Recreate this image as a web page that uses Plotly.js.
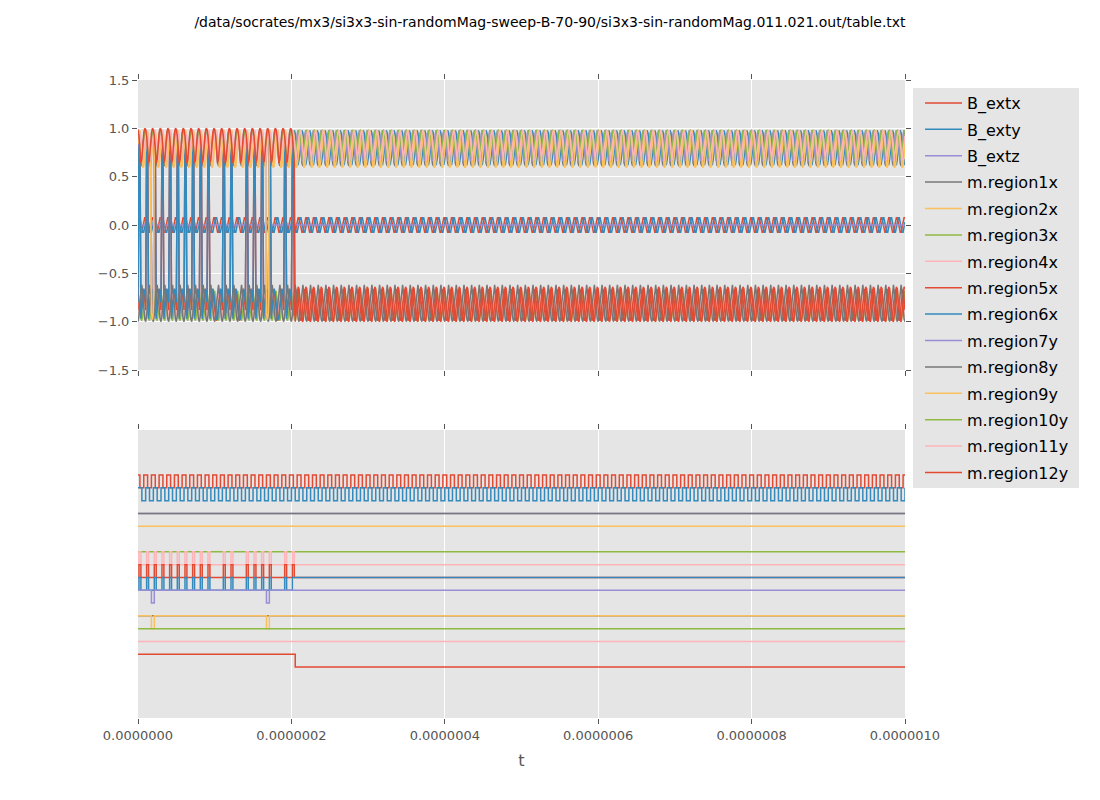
<!DOCTYPE html>
<html>
<head>
<meta charset="utf-8">
<script src="https://cdn.plot.ly/plotly-3.0.1.min.js"></script>
<style>html,body{margin:0;padding:0;background:#fff;}#chart{width:1100px;height:800px;}</style>
</head>
<body>
<div id="chart"></div>
<script>
// ---------------- data ----------------
const chartTitle = "/data/socrates/mx3/si3x3-sin-randomMag-sweep-B-70-90/si3x3-sin-randomMag.011.021.out/table.txt";
const seriesNames = ["B_extx","B_exty","B_extz","m.region1x","m.region2x","m.region3x","m.region4x",
  "m.region5x","m.region6x","m.region7y","m.region8y","m.region9y","m.region10y","m.region11y","m.region12y"];
const seriesColors = ["#E24A33","#348ABD","#988ED5","#777777","#FBC15E","#8EBA42","#FFB5B8",
  "#E24A33","#348ABD","#988ED5","#777777","#FBC15E","#8EBA42","#FFB5B8","#E24A33"];

const cycleCount = 100;          // drive cycles shown
const cyclePeriod = 1e-8;        // s
const samplesPerCycle = 8;

// one drive cycle of each signal
const bExtxCycle = [0.074, 0.031, -0.031, -0.074, -0.074, -0.031, 0.031, 0.074];
const bExtyCycle = [0.031, 0.074, 0.074, 0.031, -0.031, -0.074, -0.074, -0.031];
const bExtzCycle = [0, 0, 0, 0, 0, 0, 0, 0];
const region1xCycle = [0.97, 0.91, 0.78, 0.64, 0.61, 0.72, 0.86, 0.95];
const region2xCycle = [0.90, 0.97, 0.93, 0.81, 0.66, 0.59, 0.68, 0.82];
const region3xCycle = [-0.68, -0.78, -0.90, -0.97, -0.99, -0.93, -0.82, -0.71];
const region4xCycle = [-0.96, -0.99, -0.92, -0.80, -0.70, -0.74, -0.86, -0.93];
const region5xCycle = [-0.88, -0.97, -0.99, -0.94, -0.82, -0.70, -0.66, -0.76];
const region6xCycleBefore = [-0.80, -0.90, -0.98, -0.97, -0.88, -0.74, -0.66, -0.70];
const region6xCycleAfter = [0.68, 0.80, 0.92, 0.98, 0.95, 0.84, 0.70, 0.62];
const region7yCycle = [0.95, 0.88, 0.76, 0.66, 0.70, 0.84, 0.94, 0.98];
const region8yCycle = [-1.00, -0.94, -0.80, -0.66, -0.62, -0.72, -0.88, -0.97];
const region9yCycle = [0.84, 0.94, 0.98, 0.90, 0.74, 0.61, 0.60, 0.70];
const region10yCycle = [0.98, 0.95, 0.86, 0.74, 0.68, 0.77, 0.90, 0.97];
const region11yCycle = [0.92, 0.98, 0.95, 0.85, 0.72, 0.67, 0.78, 0.88];
const region12yCycleBefore = [0.99, 0.92, 0.78, 0.64, 0.68, 0.84, 0.95, 1.00];
const region12yCycleAfter = [-0.66, -0.80, -0.93, -0.99, -1.00, -0.92, -0.80, -0.64];

// switching events
const pulseCycles = [0, 1, 2, 3, 4, 5, 6, 7, 8, 9, 11, 12, 14, 15, 16, 17, 19, 20];
const pulseSampleIdx = [1, 2];
const pulseValues = [0.88, 0.95];
const dipStartSamples = [14, 134];     // sample index where m.region7y / m.region9y dip
const dipValues = [-0.92, -0.98, -0.90];
const region6xFlipSample = 161;        // m.region6x stays positive from here
const region12yFlipSample = 164;       // m.region12y reverses here

// ---------------- build series ----------------
const nSamples = cycleCount * samplesPerCycle + 1;
const times = [];
for (let n = 0; n < nSamples; n++) times.push(n * cyclePeriod / samplesPerCycle);

function tile(cyc) { return times.map((_, n) => cyc[n % samplesPerCycle]); }
function tileSplit(before, after, flip) {
  return times.map((_, n) => (n < flip ? before : after)[n % samplesPerCycle]);
}
function addPulses(arr, lastSample) {
  pulseCycles.forEach(c => pulseSampleIdx.forEach((s, k) => {
    const n = c * samplesPerCycle + s;
    if (lastSample === undefined || n < lastSample) arr[n] = pulseValues[k];
  }));
  return arr;
}
function addDips(arr) {
  dipStartSamples.forEach(s0 => dipValues.forEach((v, k) => { arr[s0 + k] = v; }));
  return arr;
}

const seriesValues = [
  tile(bExtxCycle),
  tile(bExtyCycle),
  tile(bExtzCycle),
  tile(region1xCycle),
  tile(region2xCycle),
  tile(region3xCycle),
  addPulses(tile(region4xCycle)),
  addPulses(tile(region5xCycle)),
  addPulses(tileSplit(region6xCycleBefore, region6xCycleAfter, region6xFlipSample), region6xFlipSample),
  addDips(tile(region7yCycle)),
  tile(region8yCycle),
  addDips(tile(region9yCycle)),
  tile(region10yCycle),
  tile(region11yCycle),
  tileSplit(region12yCycleBefore, region12yCycleAfter, region12yFlipSample)
];

// ---------------- traces ----------------
const traces = [];
const nSeries = seriesNames.length;
seriesNames.forEach((name, i) => {
  traces.push({
    type: "scatter", mode: "lines", name: name, legendgroup: "g" + i,
    x: times, y: seriesValues[i], xaxis: "x", yaxis: "y",
    line: {color: seriesColors[i], width: 1.5}, hoverinfo: "skip"
  });
});
seriesNames.forEach((name, i) => {
  const lane = nSeries - 1 - i;
  traces.push({
    type: "scatter", mode: "lines", name: name, showlegend: false,
    x: times, y: seriesValues[i].map(v => lane + (v > 0 ? 1 : 0)), xaxis: "x2", yaxis: "y2",
    line: {color: seriesColors[i], width: 1.5, shape: "hv"}, hoverinfo: "skip"
  });
});

const xTicks = [0, 2e-7, 4e-7, 6e-7, 8e-7, 1e-6];
const xDomain = [138 / 1100, 905 / 1100];
const common = {
  ticks: "outside", ticklen: 5, tickwidth: 1, tickcolor: "#555555", mirror: "ticks",
  gridcolor: "#FFFFFF", gridwidth: 1, zeroline: false, showline: false
};

const layout = {
  width: 1100, height: 800,
  margin: {l: 0, r: 0, t: 0, b: 0},
  paper_bgcolor: "#FFFFFF", plot_bgcolor: "#E5E5E5",
  font: {family: "DejaVu Sans", color: "#555555", size: 13},
  showlegend: true,
  title: {text: chartTitle, x: 0.5, xref: "container", xanchor: "center",
          y: 1 - 22 / 800, yref: "container", yanchor: "middle",
          font: {family: "DejaVu Sans", size: 14, color: "#000000"}},
  xaxis: Object.assign({}, common, {domain: xDomain, anchor: "y", range: [0, 1e-6],
          tickvals: xTicks, showticklabels: false}),
  yaxis: Object.assign({}, common, {domain: [1 - 370 / 800, 1 - 80 / 800], anchor: "x",
          range: [-1.5, 1.5], tickvals: [-1.5, -1, -0.5, 0, 0.5, 1, 1.5], tickformat: ".1f"}),
  xaxis2: Object.assign({}, common, {domain: xDomain, anchor: "y2", range: [0, 1e-6],
          tickvals: xTicks, tickformat: ".7f",
          title: {text: "t", font: {size: 16, color: "#555555"}, standoff: 13}}),
  yaxis2: Object.assign({}, common, {domain: [1 - 718 / 800, 1 - 430 / 800], anchor: "x2",
          range: [-3.98, 18.52], showticklabels: false, showgrid: false, ticks: ""}),
  shapes: [{type: "rect", xref: "paper", yref: "paper", layer: "below",
            x0: 913 / 1100, x1: 1079 / 1100, y0: 1 - 488 / 800, y1: 1 - 88 / 800,
            fillcolor: "#E5E5E5", line: {width: 0}}],
  legend: {x: 920 / 1100, y: 1 - 86 / 800, xanchor: "left", yanchor: "top",
           bgcolor: "rgba(0,0,0,0)", borderwidth: 0, font: {family: "DejaVu Sans", size: 16, color: "#000000"},
           tracegroupgap: 2.6, traceorder: "grouped", itemwidth: 37}
};

Plotly.newPlot("chart", traces, layout, {staticPlot: true, displayModeBar: false});
</script>
</body>
</html>
